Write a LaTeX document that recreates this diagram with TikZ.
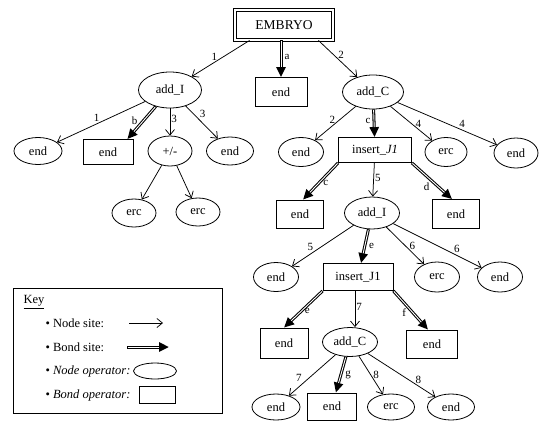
\documentclass[tikz,border=0pt]{standalone}
\usepackage{fontspec}
\setmainfont{Liberation Serif}
\usetikzlibrary{arrows.meta,shapes.geometric}
\begin{document}
\begin{tikzpicture}[x=1pt,y=-1pt,
  every node/.style={font=\fontsize{12.5}{14}\selectfont},
  op/.style={draw, ellipse, line width=0.8pt, inner sep=0pt},
  bx/.style={draw, rectangle, line width=0.8pt, inner sep=0pt},
  ns/.style={line width=0.75pt, -{Straight Barb[length=5.5pt,width=9pt]}},
  bs/.style={line width=3pt, -{Triangle[length=10pt,width=9pt]},
    postaction={draw=white, line width=0.9pt, -, shorten >=10pt, shorten <=0.8pt}},
  lb/.style={font=\fontsize{11}{12}\selectfont, inner sep=1pt}
]
\useasboundingbox (0,0) rectangle (544,421);

% nodes
\node[draw, double, double distance=2pt, line width=0.9pt, inner sep=0pt,
      minimum width=98pt, minimum height=30pt, font=\fontsize{13.5}{15}\selectfont] (E) at (284,25) {EMBRYO};
\node[bx, minimum width=52pt, minimum height=29pt] (endA) at (281,92) {end};
\node[op, minimum width=63pt, minimum height=36pt] (addI) at (170,90) {add\_I};
\node[op, minimum width=61pt, minimum height=34pt] (addC) at (373,92) {add\_C};

\node[op, minimum width=48pt, minimum height=27pt] (endE1) at (38,151) {end};
\node[bx, minimum width=50pt, minimum height=25pt] (endB1) at (108,152) {end};
\node[op, minimum width=44pt, minimum height=30pt] (pm) at (170,151) {+/-};
\node[op, minimum width=47pt, minimum height=28pt] (endE2) at (230,151) {end};
\node[op, minimum width=44pt, minimum height=28pt] (erc1) at (134,213) {erc};
\node[op, minimum width=44pt, minimum height=28pt] (erc2) at (198,212) {erc};

\node[op, minimum width=45pt, minimum height=29pt] (endE3) at (301,152) {end};
\node[bx, minimum width=73pt, minimum height=25pt] (J1) at (375,150) {insert\_\textit{J1}};
\node[op, minimum width=42pt, minimum height=29pt] (erc3) at (446,152) {erc};
\node[op, minimum width=44pt, minimum height=30pt] (endE4) at (516,153) {end};

\node[bx, minimum width=47pt, minimum height=28pt] (endB2) at (300,214) {end};
\node[op, minimum width=55pt, minimum height=32pt] (addI2) at (372,213) {add\_I};
\node[bx, minimum width=47pt, minimum height=29pt] (endB3) at (456,214) {end};

\node[op, minimum width=45pt, minimum height=29pt] (endE5) at (276,277) {end};
\node[bx, minimum width=70pt, minimum height=27pt] (J1b) at (358,277) {insert\_J1};
\node[op, minimum width=45pt, minimum height=30pt] (erc4) at (437,277) {erc};
\node[op, minimum width=45pt, minimum height=30pt] (endE6) at (500,277) {end};

\node[bx, minimum width=48pt, minimum height=30pt] (endB4) at (284,343) {end};
\node[op, minimum width=55pt, minimum height=29pt] (addC2) at (350,342) {add\_C};
\node[bx, minimum width=51pt, minimum height=28pt] (endB5) at (432,344) {end};

\node[op, minimum width=48pt, minimum height=26pt] (endE7) at (276,407) {end};
\node[bx, minimum width=49pt, minimum height=27pt] (endB6) at (332,406.5) {end};
\node[op, minimum width=47pt, minimum height=26pt] (erc5) at (391,407) {erc};
\node[op, minimum width=47pt, minimum height=26pt] (endE8) at (451,407) {end};

% connectors from EMBRYO
\draw[ns] ([xshift=15pt]E.south west) -- (addI) node[lb, pos=0.45, left=5pt] {1};
\draw[bs] (E.south -| endA) -- (endA) node[lb, pos=0.45, right=1pt] {a};
\draw[ns] ([xshift=-15pt]E.south east) -- (addC) node[lb, pos=0.4, right=3pt] {2};

% from add_I
\draw[ns] (addI) -- (endE1) node[lb, pos=0.55, above=1pt] {1};
\draw[bs] (addI) -- ([xshift=-6pt]endB1.north east) node[lb, pos=0.45, left=3pt] {b};
\draw[ns] (addI) -- (pm) node[lb, pos=0.4, right=0pt] {3};
\draw[ns] (addI) -- (endE2) node[lb, pos=0.4, above right=0pt] {3};
\draw[ns] (pm) -- (erc1);
\draw[ns] (pm) -- (erc2);

% from add_C
\draw[ns] (addC) -- (endE3) node[lb, pos=0.4, left=3pt] {2};
\draw[bs] (addC) -- (J1) node[lb, pos=0.4, left=1pt] {c};
\draw[ns] (addC) -- (erc3) node[lb, pos=0.5, right=3pt] {4};
\draw[ns] (addC) -- (endE4) node[lb, pos=0.65, above=1pt] {4};

% from insert_J1
\draw[bs] (J1.south west) -- ([xshift=3pt]endB2.north) node[lb, pos=0.55, right=2pt] {c};
\draw[ns] (J1) -- (addI2) node[lb, pos=0.45, right=0pt] {5};
\draw[bs] (J1.south east) -- ([xshift=-4pt]endB3.north) node[lb, pos=0.65, left=6pt] {d};

% from add_I (second)
\draw[ns] (addI2) -- (endE5) node[lb, pos=0.7, above=2pt] {5};
\draw[bs] (addI2) -- (J1b) node[lb, pos=0.5, right=2pt] {e};
\draw[ns] (addI2) -- (erc4) node[lb, pos=0.5, right=3pt] {6};
\draw[ns] (addI2) -- (endE6) node[lb, pos=0.72, above=1pt] {6};

% from insert_J1 (second)
\draw[bs] (J1b.south west) -- (endB4.north) node[lb, pos=0.55, right=1pt] {e};
\draw[ns] ([xshift=-3pt]J1b.south) -- ([xshift=5pt]addC2.north) node[lb, pos=0.45, right=0pt] {7};
\draw[bs] (J1b.south east) -- ([xshift=-4pt]endB5.north) node[lb, pos=0.55, left=4pt] {f};

% from add_C (second)
\draw[ns] (addC2) -- (endE7) node[lb, pos=0.7, above left=0pt] {7};
\draw[bs] (addC2) -- (endB6) node[lb, pos=0.5, right=2pt] {g};
\draw[ns] (addC2) -- (erc5) node[lb, pos=0.5, right=1pt] {8};
\draw[ns] (addC2) -- (endE8) node[lb, pos=0.75, above=1pt] {8};

% key
\node[draw, line width=0.8pt, minimum width=209pt, minimum height=125pt, inner sep=0pt] (keybox) at (117.5,350.5) {};
\node[anchor=west] (keyt) at (20,302) {\underline{Key}};
\node[anchor=west] (k1) at (42,323) {• Node site:};
\node[anchor=west] (k2) at (42,347) {• Bond site:};
\node[anchor=west] (k3) at (42,371) {• \textit{Node operator:}};
\node[anchor=west] (k4) at (42,395) {• \textit{Bond operator:}};
\coordinate (k1a) at (129,323);
\coordinate (k1b) at (163,323);
\draw[ns] (k1a) -- (k1b);
\coordinate (k2a) at (127,347);
\coordinate (k2b) at (169,347);
\draw[bs] (k2a) -- (k2b);
\node[op, minimum width=43pt, minimum height=16pt] (k3e) at (155,371) {};
\node[bx, minimum width=36pt, minimum height=17pt] (k4b) at (157,395) {};
\end{tikzpicture}
\end{document}
